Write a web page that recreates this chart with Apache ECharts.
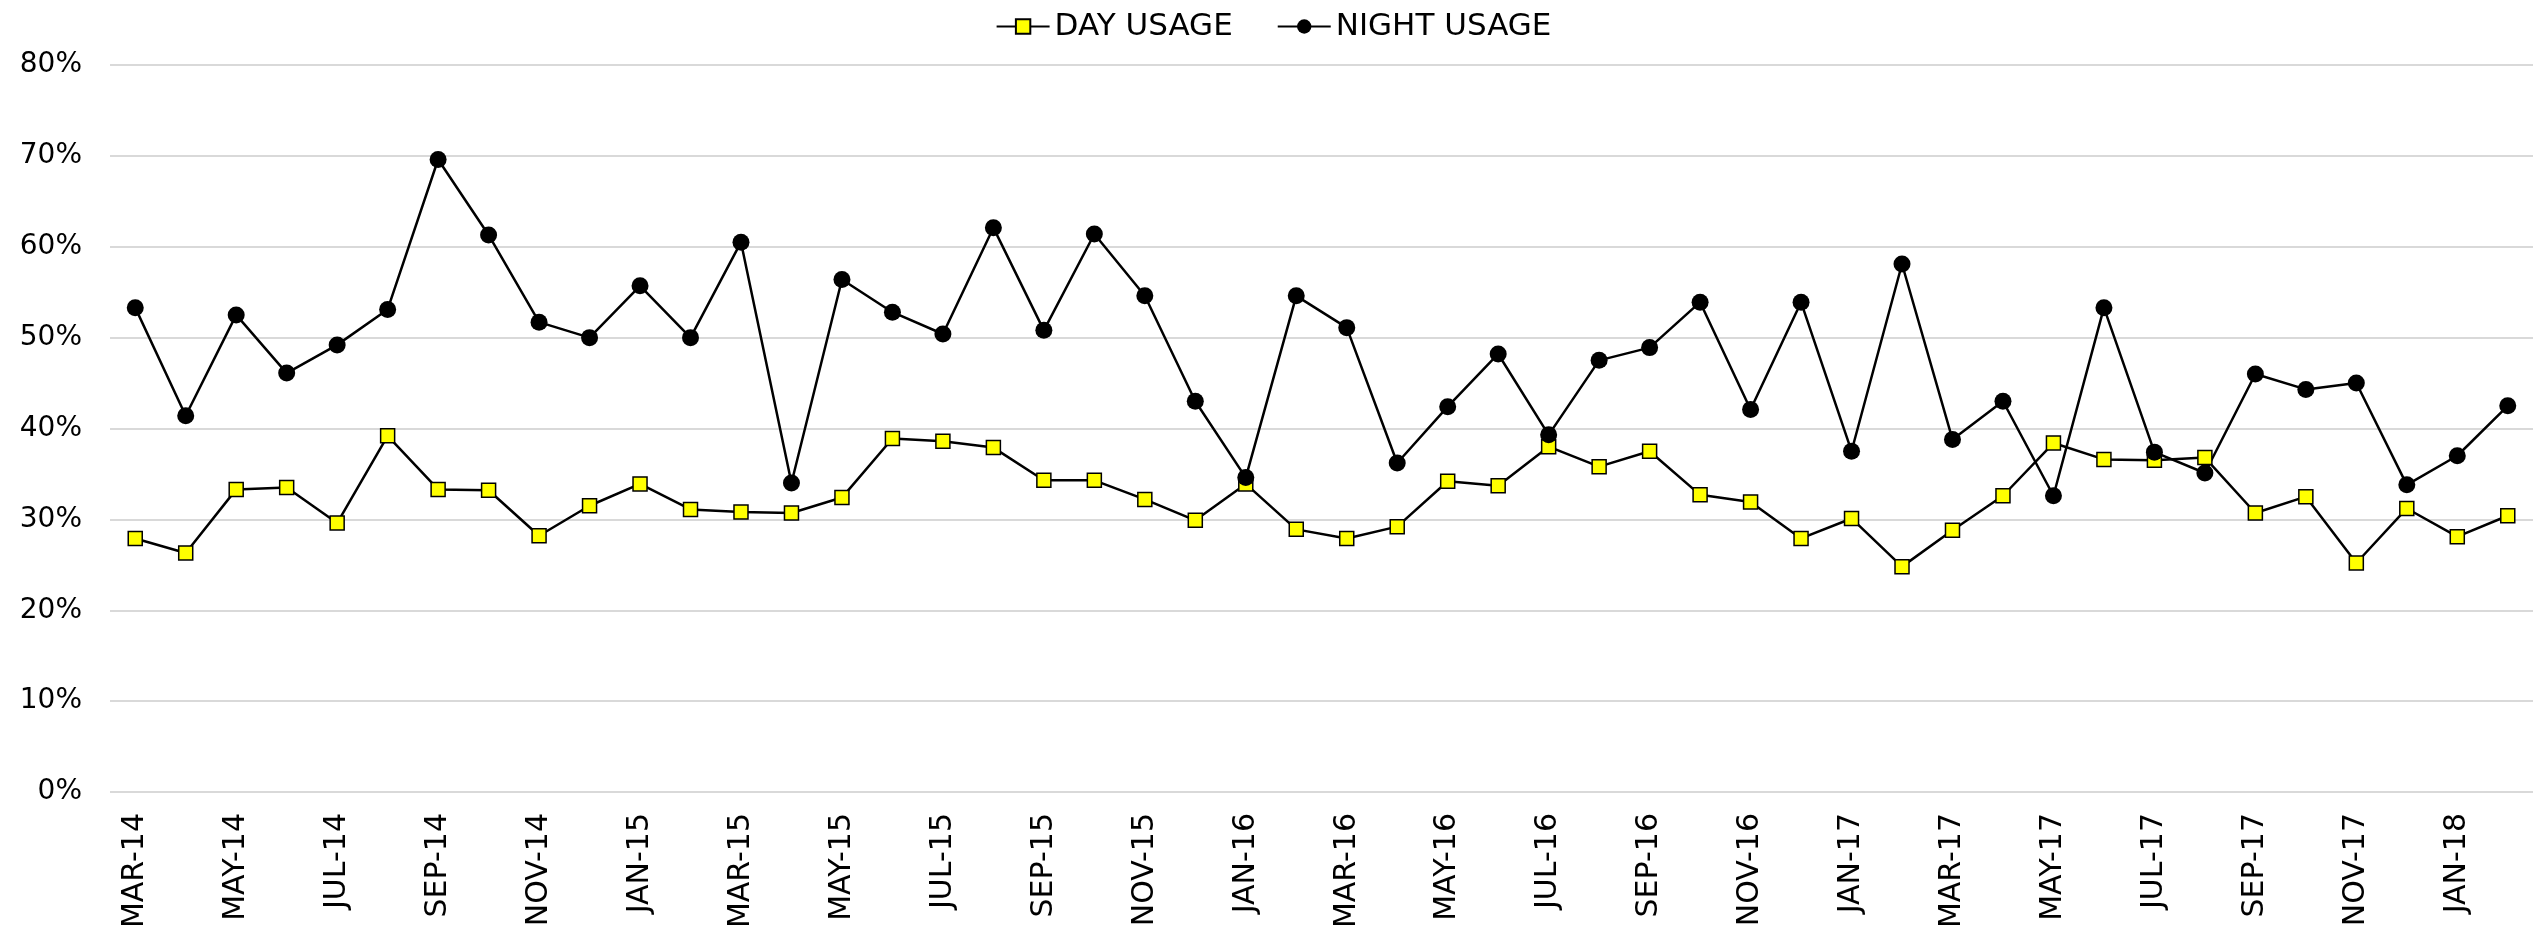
<!DOCTYPE html>
<html>
<head>
<meta charset="utf-8">
<style>
  html, body { margin: 0; padding: 0; background: #fff; }
  #main { width: 2547px; height: 944px; }
</style>
<script src="https://cdn.jsdelivr.net/npm/echarts@6/dist/echarts.min.js"></script>
</head>
<body>
<div id="main"></div>
<script>
// months on the x axis
var months = [
  'MAR-14', 'APR-14', 'MAY-14', 'JUN-14', 'JUL-14', 'AUG-14', 'SEP-14', 'OCT-14', 'NOV-14', 'DEC-14',
  'JAN-15', 'FEB-15', 'MAR-15', 'APR-15', 'MAY-15', 'JUN-15', 'JUL-15', 'AUG-15', 'SEP-15', 'OCT-15', 'NOV-15', 'DEC-15',
  'JAN-16', 'FEB-16', 'MAR-16', 'APR-16', 'MAY-16', 'JUN-16', 'JUL-16', 'AUG-16', 'SEP-16', 'OCT-16', 'NOV-16', 'DEC-16',
  'JAN-17', 'FEB-17', 'MAR-17', 'APR-17', 'MAY-17', 'JUN-17', 'JUL-17', 'AUG-17', 'SEP-17', 'OCT-17', 'NOV-17', 'DEC-17',
  'JAN-18', 'FEB-18'
];

// usage in percent
var dayUsage = [
  27.9, 26.3, 33.3, 33.5, 29.6, 39.2, 33.3, 33.2, 28.2, 31.5,
  33.9, 31.1, 30.8, 30.7, 32.4, 38.9, 38.6, 37.9, 34.3, 34.3, 32.2, 29.9,
  33.9, 28.9, 27.9, 29.2, 34.2, 33.7, 38.0, 35.8, 37.5, 32.7, 31.9, 27.9,
  30.1, 24.8, 28.8, 32.6, 38.4, 36.6, 36.5, 36.8, 30.7, 32.5, 25.2, 31.2,
  28.1, 30.4
];
var nightUsage = [
  53.3, 41.4, 52.5, 46.1, 49.2, 53.1, 69.6, 61.3, 51.7, 50.0,
  55.7, 50.0, 60.5, 34.0, 56.4, 52.8, 50.4, 62.1, 50.8, 61.4, 54.6, 43.0,
  34.6, 54.6, 51.1, 36.2, 42.4, 48.2, 39.3, 47.5, 48.9, 53.9, 42.1, 53.9,
  37.5, 58.1, 38.8, 43.0, 32.6, 53.3, 37.4, 35.1, 46.0, 44.3, 45.0, 33.8,
  37.0, 42.5
];

var yTicks = { min: 0, max: 80, step: 10 };

var myChart = echarts.init(document.getElementById('main'));

var option = {
  animation: false,
  backgroundColor: '#fff',
  legend: {
    top: 6,
    left: 'center',
    itemWidth: 53,
    itemHeight: 18,
    itemGap: 44,
    textStyle: {
      fontFamily: 'DejaVu Sans',
      fontSize: 31,
      color: '#000'
    },
    data: ['DAY USAGE', 'NIGHT USAGE']
  },
  grid: {
    left: 110,
    right: 14,
    top: 65,
    bottom: 152
  },
  xAxis: {
    type: 'category',
    data: months,
    boundaryGap: true,
    axisLine: { show: false },
    axisTick: { show: false },
    axisLabel: {
      interval: 1,
      rotate: 90,
      margin: 21,
      fontFamily: 'DejaVu Sans',
      fontSize: 30,
      color: '#000'
    }
  },
  yAxis: {
    type: 'value',
    min: yTicks.min,
    max: yTicks.max,
    interval: yTicks.step,
    axisLine: { show: false },
    axisTick: { show: false },
    axisLabel: {
      formatter: '{value}%',
      margin: 28,
      fontFamily: 'DejaVu Sans',
      fontSize: 28,
      color: '#000'
    },
    splitLine: {
      lineStyle: { color: '#d9d9d9', width: 2 }
    }
  },
  series: [
    {
      name: 'DAY USAGE',
      type: 'line',
      data: dayUsage,
      symbol: 'rect',
      symbolSize: 14,
      itemStyle: {
        color: '#ffff00',
        borderColor: '#000',
        borderWidth: 1.5
      },
      lineStyle: { color: '#000', width: 2.5 }
    },
    {
      name: 'NIGHT USAGE',
      type: 'line',
      data: nightUsage,
      symbol: 'circle',
      symbolSize: 17,
      itemStyle: {
        color: '#000',
        borderColor: '#000',
        borderWidth: 0
      },
      lineStyle: { color: '#000', width: 2.5 }
    }
  ]
};

myChart.setOption(option);
</script>
</body>
</html>
